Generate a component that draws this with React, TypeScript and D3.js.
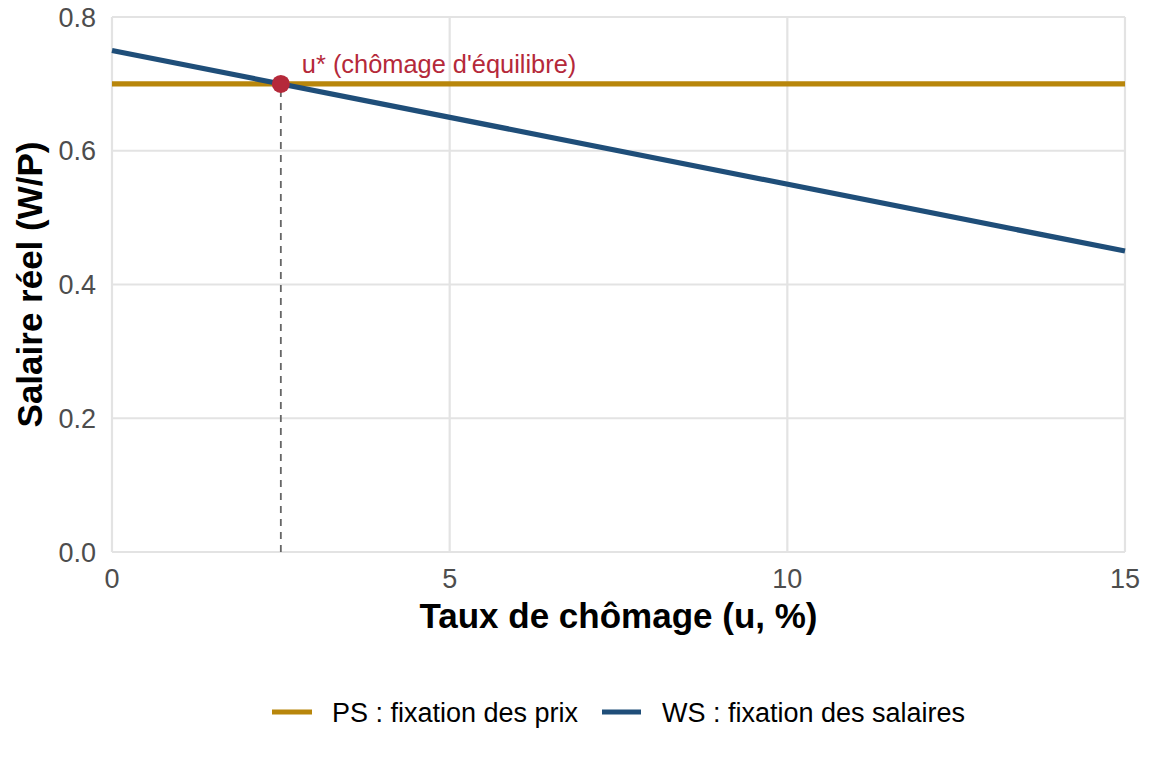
import React from "react";
import * as d3 from "d3";

const uValues = [0, 15];
const psValues = [0.7, 0.7];
const wsValues = [0.75, 0.45];
const equilibrium = { u: 2.5, w: 0.7, label: "u* (chômage d'équilibre)" };
const xTicks = [0, 5, 10, 15];
const yTicks = [0, 0.2, 0.4, 0.6, 0.8];
const legendItems = [
  { key: "PS", label: "PS : fixation des prix", color: "#b8860b" },
  { key: "WS", label: "WS : fixation des salaires", color: "#1f4e79" },
];

const W = 1152;
const H = 768;
const margin = { left: 112, right: 27, top: 17, bottom: 216 };

export default function App() {
  const x = d3.scaleLinear().domain([0, 15]).range([margin.left, W - margin.right]);
  const y = d3.scaleLinear().domain([0, 0.8]).range([H - margin.bottom, margin.top]);
  const line = d3
    .line<[number, number]>()
    .x((d) => x(d[0]))
    .y((d) => y(d[1]));
  const ps = uValues.map((u, i) => [u, psValues[i]] as [number, number]);
  const ws = uValues.map((u, i) => [u, wsValues[i]] as [number, number]);
  const font = "'Liberation Sans', Arial, Helvetica, sans-serif";
  return (
    <svg
      width={W}
      height={H}
      style={{ position: "fixed", left: 0, top: 0, background: "#fff" }}
      fontFamily={font}
    >
      <rect width={W} height={H} fill="#fff" />
      {xTicks.map((t) => (
        <line key={"gx" + t} x1={x(t)} x2={x(t)} y1={y(0)} y2={y(0.8)} stroke="#e3e3e3" strokeWidth={2.2} />
      ))}
      {yTicks.map((t) => (
        <line key={"gy" + t} x1={x(0)} x2={x(15)} y1={y(t)} y2={y(t)} stroke="#e3e3e3" strokeWidth={2.2} />
      ))}
      {xTicks.map((t) => (
        <text key={"tx" + t} x={x(t)} y={y(0) + 36} textAnchor="middle" fontSize={27} fill="#4d4d4d">
          {t}
        </text>
      ))}
      {yTicks.map((t) => (
        <text key={"ty" + t} x={x(0) - 16} y={y(t) + 9.5} textAnchor="end" fontSize={27} fill="#4d4d4d">
          {d3.format(".1f")(t)}
        </text>
      ))}
      <line
        x1={x(equilibrium.u)}
        x2={x(equilibrium.u)}
        y1={y(0)}
        y2={y(equilibrium.w)}
        stroke="#666"
        strokeWidth={1.8}
        strokeDasharray="7,6"
      />
      <path d={line(ps) || ""} fill="none" stroke={legendItems[0].color} strokeWidth={5.2} />
      <path d={line(ws) || ""} fill="none" stroke={legendItems[1].color} strokeWidth={5.2} />
      <circle cx={x(equilibrium.u)} cy={y(equilibrium.w)} r={9} fill="#b5293a" />
      <text x={x(equilibrium.u) + 21} y={y(equilibrium.w) - 11} fontSize={25.4} fill="#b5293a">
        {equilibrium.label}
      </text>
      <text x={(x(0) + x(15)) / 2} y={628} textAnchor="middle" fontSize={35} fontWeight="bold" fill="#000">
        Taux de chômage (u, %)
      </text>
      <text
        transform={`translate(42, ${(y(0) + y(0.8)) / 2}) rotate(-90)`}
        textAnchor="middle"
        fontSize={35}
        fontWeight="bold"
        fill="#000"
      >
        Salaire réel (W/P)
      </text>
      <g>
        <line x1={272} x2={312} y1={712} y2={712} stroke={legendItems[0].color} strokeWidth={5.2} />
        <text x={332} y={722} fontSize={27} fill="#000">{legendItems[0].label}</text>
        <line x1={602} x2={641} y1={712} y2={712} stroke={legendItems[1].color} strokeWidth={5.2} />
        <text x={662} y={722} fontSize={27} fill="#000">{legendItems[1].label}</text>
      </g>
    </svg>
  );
}
